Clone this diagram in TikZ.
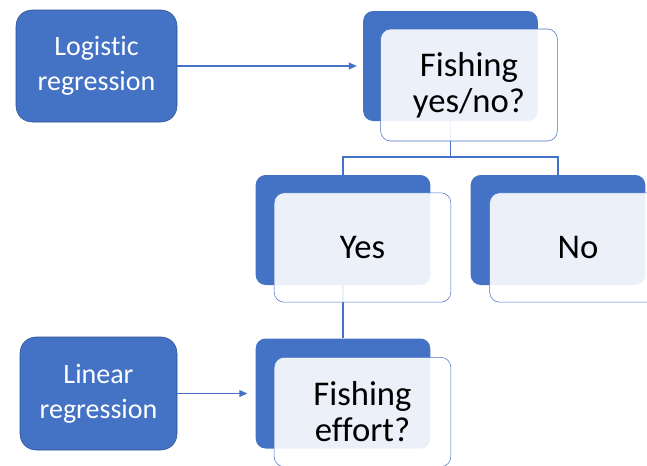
\documentclass[tikz,border=0pt]{standalone}
\usepackage{fontspec}
\setmainfont{Carlito}[RawFeature={-liga;-clig;-dlig;-calt}]
\usetikzlibrary{arrows.meta, positioning}

\definecolor{boxblue}{RGB}{68,114,196}
\definecolor{edgeblue}{RGB}{47,82,143}

\tikzset{
    model/.style={rectangle, rounded corners=12pt, draw=edgeblue, thin, fill=boxblue, text=white, align=center, font=\fontsize{21}{26}\selectfont},
    back/.style={rectangle, rounded corners=7.5pt, fill=boxblue, minimum width=131pt, minimum height=82.5pt},
    front/.style={rectangle, rounded corners=7.5pt, draw=boxblue, fill=white, fill opacity=0.9, text opacity=1, align=center, minimum width=132.5pt, minimum height=82pt, font=\fontsize{26}{27}\selectfont},
    link/.style={draw=boxblue, line width=1.1pt},
    arr/.style={draw=boxblue, line width=1.1pt, -{Triangle[length=6pt, width=5pt]}}
}

\begin{document}
\begin{tikzpicture}[x=0.75pt, y=-0.75pt]
        \useasboundingbox (0,0) rectangle (647,465);

        % methods
        \node[model, minimum width=120.75pt, minimum height=84pt] (logit) at (96.5,66) {Logistic\\regression};
        \node[model, minimum width=117.75pt, minimum height=84.75pt] (linreg) at (98.5,393.5) {Linear\\regression};

        % dark boxes
        \node[back] (qback) at (450.5,66) {};
        \node[back] (yesback) at (343,230) {};
        \node[back] (noback) at (558,230) {};
        \node[back] (effback) at (343,393.5) {};

        % links
        \coordinate (split) at (450.5,157);
        \draw[link] (qback.south) -- (split) -| (yesback.north);
        \draw[link] (split) -| (noback.north);
        \draw[link] (yesback.south) -- (effback.north);

        \draw[arr, shorten >=4.5pt] (logit) -- (qback);
        \draw[arr, shorten >=6pt] (linreg) -- (effback);

        % light boxes
        \node[front, minimum height=84pt] (qfront) at (469,85) {Fishing\\yes/no?};
        \node[front] (yesfront) at (362.5,247.5) {Yes};
        \node[front] (nofront) at (578,247.5) {No};
        \node[front] (efffront) at (362.5,412) {Fishing\\effort?};

\end{tikzpicture}
\end{document}
